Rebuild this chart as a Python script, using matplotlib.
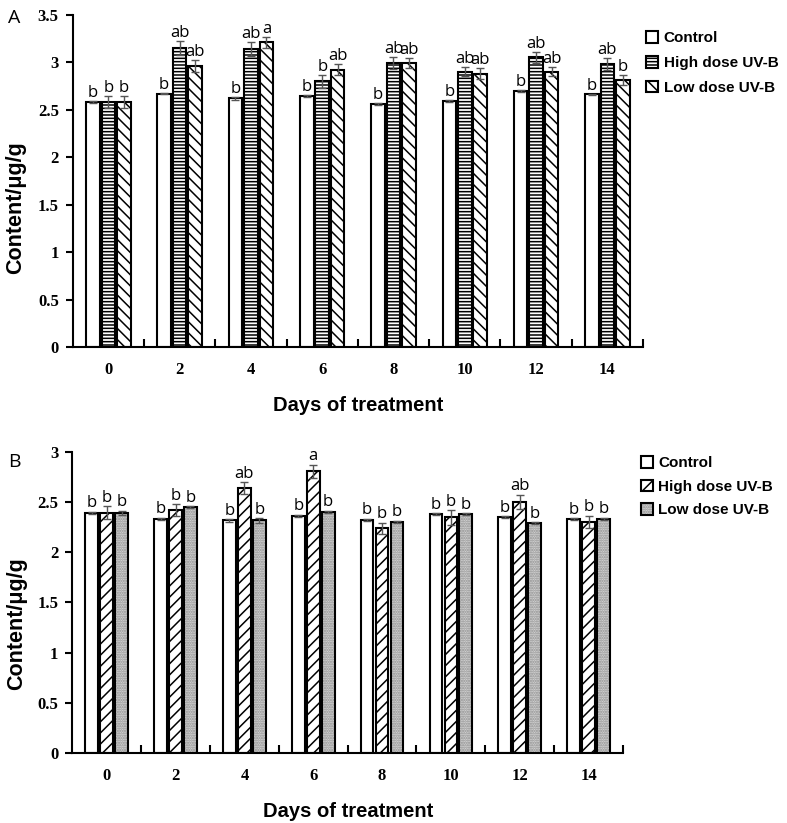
import numpy as np
import matplotlib
matplotlib.use("Agg")
import matplotlib.pyplot as plt
from matplotlib.patches import Patch
from matplotlib.legend_handler import HandlerTuple

days = ["0", "2", "4", "6", "8", "10", "12", "14"]
series_names = ["Control", "High dose UV-B", "Low dose UV-B"]

# Panel A
a_control = [2.58, 2.67, 2.62, 2.64, 2.56, 2.59, 2.70, 2.66]
a_control_err = [0.01, 0.01, 0.015, 0.01, 0.015, 0.01, 0.01, 0.01]
a_high = [2.58, 3.15, 3.14, 2.80, 2.99, 2.90, 3.05, 2.98]
a_high_err = [0.06, 0.07, 0.07, 0.07, 0.06, 0.05, 0.06, 0.06]
a_low = [2.58, 2.96, 3.21, 2.92, 2.99, 2.88, 2.90, 2.81]
a_low_err = [0.06, 0.06, 0.06, 0.06, 0.05, 0.06, 0.05, 0.05]
a_letters_control = ["b"] * 8
a_letters_high = ["b", "ab", "ab", "b", "ab", "ab", "ab", "ab"]
a_letters_low = ["b", "ab", "a", "ab", "ab", "ab", "ab", "b"]

# Panel B
b_control = [2.39, 2.33, 2.315, 2.36, 2.32, 2.375, 2.345, 2.325]
b_control_err = [0.01, 0.01, 0.01, 0.01, 0.01, 0.01, 0.01, 0.01]
b_high = [2.39, 2.415, 2.635, 2.805, 2.24, 2.345, 2.50, 2.30]
b_high_err = [0.065, 0.06, 0.06, 0.065, 0.055, 0.07, 0.07, 0.06]
b_low = [2.39, 2.445, 2.315, 2.40, 2.30, 2.375, 2.29, 2.33]
b_low_err = [0.02, 0.01, 0.02, 0.01, 0.01, 0.01, 0.01, 0.01]
b_letters_control = ["b"] * 8
b_letters_high = ["b", "b", "ab", "a", "b", "b", "ab", "b"]
b_letters_low = ["b", "b", "b", "b", "b", "b", "b", "b"]

plt.rcParams['hatch.linewidth'] = 1.1

fig = plt.figure(figsize=(7.87, 8.23), dpi=100)
W, H = 787, 823

def ax_rect(x0, x1, ytop, ybot):
    return [x0 / W, 1 - ybot / H, (x1 - x0) / W, (ybot - ytop) / H]

axA = fig.add_axes(ax_rect(72.7, 643, 14.7, 347))
axB = fig.add_axes(ax_rect(72.3, 623, 451.7, 753))

tick_font = dict(family="Liberation Serif", weight="bold", size=12)
letter_font = dict(family=["Open Sans", "DejaVu Sans"], size=12)
xlabel_font = dict(family="Liberation Sans", weight="bold", size=14.5)
ylabel_font = dict(family="Liberation Sans", weight="bold", size=15.5)
legend_prop = dict(family="Liberation Sans", weight="bold", size=11)

x = np.arange(len(days))
off = 0.217
ecolor = "#555555"
ekw = dict(ecolor=ecolor, elinewidth=1, capsize=3, capthick=1)

def style_axes(ax, ymax, yticks):
    ax.set_xlim(-0.5, len(days) - 0.5)
    ax.set_ylim(0, ymax)
    for s in ["top", "right"]:
        ax.spines[s].set_visible(False)
    for s in ["left", "bottom"]:
        ax.spines[s].set_linewidth(1.5)
    ax.set_yticks(yticks)
    ax.set_yticklabels([("%g" % v) for v in yticks], **tick_font)
    ax.tick_params(axis="y", direction="out", length=5, width=1.5, pad=5)
    ax.set_xticks(x)
    ax.set_xticklabels(days, **tick_font)
    ax.tick_params(axis="x", length=0, pad=11)
    ax.set_xticks(np.arange(len(days)) + 0.5, minor=True)
    ax.tick_params(axis="x", which="minor", direction="in", length=6, width=1.5)
    ax.set_xlabel("Days of treatment", labelpad=13, **xlabel_font)
    ax.set_ylabel("Content/μg/g", **ylabel_font)

def annotate(ax, xs, vals, errs, letters, pad):
    for xi, v, e, t in zip(xs, vals, errs, letters):
        ax.text(xi, v + e + pad, t, ha="center", va="bottom", **letter_font)

# ---- Panel A ----
wA = 0.19
hA0 = axA.bar(x - off, a_control, wA, facecolor="white", edgecolor="black", linewidth=1.5,
              yerr=a_control_err, error_kw=ekw)
hA1 = axA.bar(x, a_high, wA, facecolor="white", edgecolor="black", linewidth=1.5, hatch="-----",
              yerr=a_high_err, error_kw=ekw)
hA2 = axA.bar(x + off, a_low, wA, facecolor="white", edgecolor="black", linewidth=1.5, hatch="\\\\\\",
              yerr=a_low_err, error_kw=ekw)
annotate(axA, x - off, a_control, a_control_err, a_letters_control, 0.0)
annotate(axA, x, a_high, a_high_err, a_letters_high, 0.0)
annotate(axA, x + off, a_low, a_low_err, a_letters_low, 0.0)
style_axes(axA, 3.5, np.arange(0, 3.51, 0.5))
axA.yaxis.set_label_coords(-0.082, 0.42)
legA = fig.legend([hA0, hA1, hA2], series_names, loc="upper left",
                  bbox_to_anchor=(646 / W, 1 - 31 / H), frameon=False, prop=legend_prop,
                  handlelength=0.8, handleheight=0.8, handletextpad=0.35, labelspacing=0.7,
                  borderaxespad=0, borderpad=0)
fig.text(8 / W, 1 - 18 / H, "A", family=["Open Sans", "DejaVu Sans"], size=14, ha="left", va="center")

# ---- Panel B ----
wB = 0.185
axB.bar(x - off, b_control, wB, facecolor="white", edgecolor="black", linewidth=1.5,
        yerr=b_control_err, error_kw=ekw)
axB.bar(x, b_high, wB, facecolor="white", edgecolor="black", linewidth=1.5, hatch="///",
        yerr=b_high_err, error_kw=ekw)
axB.bar(x + off, b_low, wB, facecolor="#d6d6d6", edgecolor="#8a8a8a", linewidth=0, hatch=".......")
axB.bar(x + off, b_low, wB, facecolor="none", edgecolor="black", linewidth=1.5,
        yerr=b_low_err, error_kw=ekw)
annotate(axB, x - off, b_control, b_control_err, b_letters_control, 0.005)
annotate(axB, x, b_high, b_high_err, b_letters_high, 0.005)
annotate(axB, x + off, b_low, b_low_err, b_letters_low, 0.005)
style_axes(axB, 3.0, np.arange(0, 3.01, 0.5))
axB.yaxis.set_label_coords(-0.082, 0.43)

hB0 = Patch(facecolor="white", edgecolor="black", linewidth=1.5)
hB1 = Patch(facecolor="white", edgecolor="black", linewidth=1.5, hatch="///")
hB2a = Patch(facecolor="#d6d6d6", edgecolor="#8a8a8a", linewidth=0, hatch=".......")
hB2b = Patch(facecolor="none", edgecolor="black", linewidth=1.5)
legB = fig.legend([hB0, hB1, (hB2a, hB2b)], series_names, loc="upper left",
                  bbox_to_anchor=(640.5 / W, 1 - 456 / H), frameon=False, prop=legend_prop,
                  handlelength=0.8, handleheight=0.8, handletextpad=0.35, labelspacing=0.62,
                  borderaxespad=0, borderpad=0, handler_map={tuple: HandlerTuple(ndivide=1)})
fig.text(8 / W, 1 - 462 / H, "B", family=["Open Sans", "DejaVu Sans"], size=14, ha="left", va="center")

fig.savefig("out.png", dpi=100)
